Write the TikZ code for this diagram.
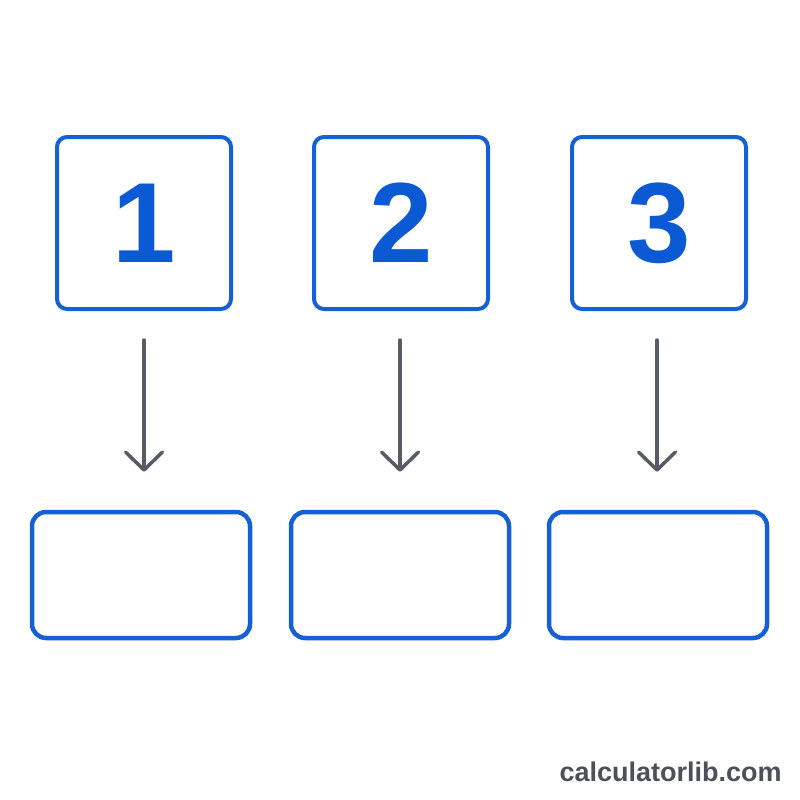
\documentclass[tikz,border=0pt]{standalone}
\usepackage{fontspec}
\setmainfont{Liberation Sans}
\usetikzlibrary{positioning,arrows.meta}
\definecolor{stepblue}{HTML}{1560D2}
\definecolor{digitblue}{HTML}{0B5AD3}
\definecolor{arrowgray}{HTML}{565B64}
\definecolor{markgray}{HTML}{4B505A}

\begin{document}
\begin{tikzpicture}[x=1pt, y=-1pt, semithick,
            numbox/.style ={draw=stepblue, line width=4pt, rounded corners=10pt,
            minimum width=174pt, minimum height=172pt, inner sep=0pt, text=digitblue,
            font=\fontsize{114}{114}\selectfont\bfseries},
            slotbox/.style ={draw=stepblue, line width=4.5pt, rounded corners=14pt,
            minimum width=218pt, minimum height=126pt, inner sep=0pt},
            down/.style ={draw=arrowgray, line width=3.5pt, line cap=round,
            -{Straight Barb[length=18pt, width=37pt, line cap=round, line join=round]}}]

        \useasboundingbox[fill=white] (0,0) rectangle (800,800);

        % numbered boxes
        \node[numbox] (N1) at (144, 223) {1};
        \node[numbox] (N2) at (401, 223) {2};
        \node[numbox] (N3) at (659, 223) {3};

        % empty boxes below
        \node[slotbox] (S1) at (141, 575) {};
        \node[slotbox] (S2) at (400, 575) {};
        \node[slotbox] (S3) at (658, 575) {};

        \path (N1.south -| 144,0) edge [down, shorten <=29pt, shorten >=38pt] (S1.north -| 144,0);
        \path (N2.south -| 400,0) edge [down, shorten <=29pt, shorten >=38pt] (S2.north -| 400,0);
        \path (N3.south -| 657,0) edge [down, shorten <=29pt, shorten >=38pt] (S3.north -| 657,0);

        \node[anchor=base east, text=markgray, inner sep=0pt,
              font=\fontsize{27}{27}\selectfont\bfseries] (mark) at (782, 781) {calculatorlib.com};

\end{tikzpicture}
\end{document}
